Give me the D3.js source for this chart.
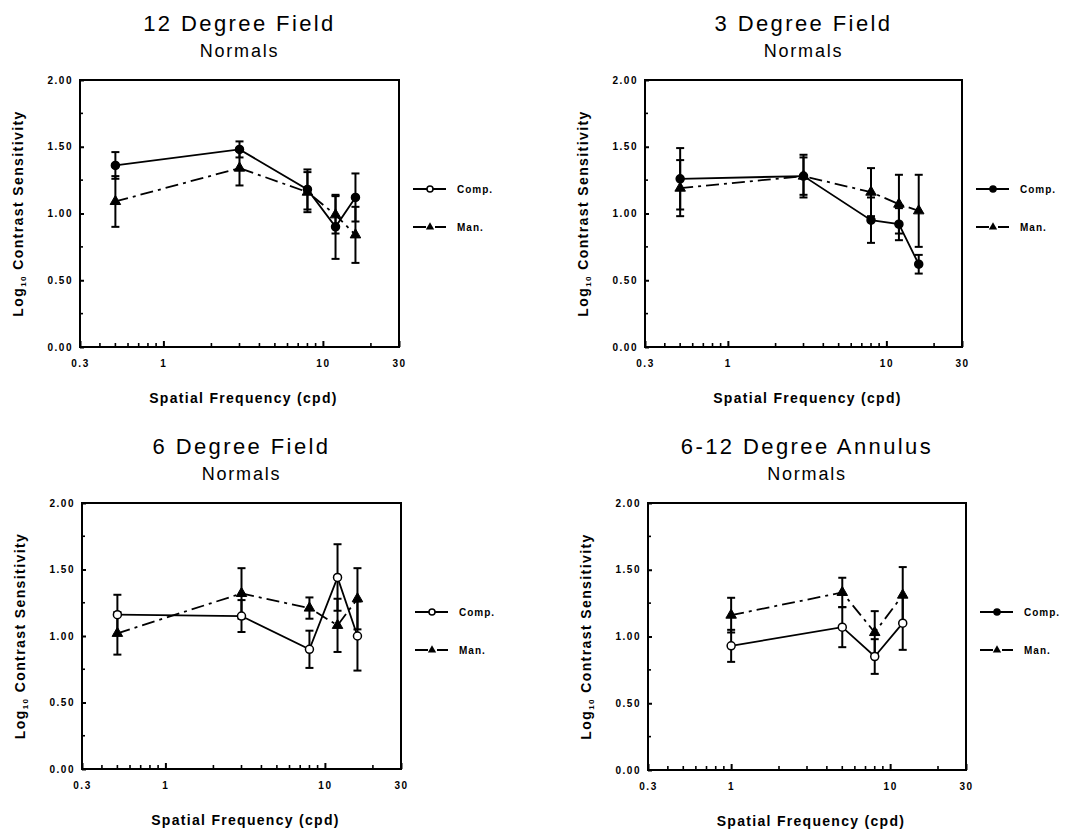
<!DOCTYPE html>
<html>
<head>
<meta charset="utf-8">
<script src="https://cdn.jsdelivr.net/npm/d3@7"></script>
<style>
  body { margin: 0; background: #fff; }
  svg { display: block; }
</style>
</head>
<body>
<svg id="chart" width="1081" height="838"></svg>
<script>
// ---- Titles, series names and axis labels ----
const panelTitles = ["12 Degree Field", "3 Degree Field", "6 Degree Field", "6-12 Degree Annulus"];
const panelSubtitle = "Normals";
const seriesNames = ["Comp.", "Man."];
const xTitle = "Spatial Frequency (cpd)";
const xTickValues = [0.3, 1, 10, 30];
const xTickLabels = ["0.3", "1", "10", "30"];
const xMinorValues = [0.4, 0.5, 0.6, 0.7, 0.8, 0.9, 2, 3, 4, 5, 6, 7, 8, 9, 20];
const yTickValues = [0, 0.5, 1, 1.5, 2];
const yTickLabels = ["0.00", "0.50", "1.00", "1.50", "2.00"];
const yMinorValues = [0.25, 0.75, 1.25, 1.75];

// ---- 12 degree field ----
const freq12 = [0.5, 3, 8, 12, 16];
const comp12 = [1.36, 1.48, 1.18, 0.90, 1.12];
const compErr12 = [0.10, 0.06, 0.15, 0.24, 0.18];
const man12 = [1.09, 1.34, 1.16, 0.99, 0.84];
const manErr12 = [0.19, 0.13, 0.15, 0.14, 0.21];

// ---- 3 degree field ----
const freq3 = [0.5, 3, 8, 12, 16];
const comp3 = [1.26, 1.28, 0.95, 0.92, 0.62];
const compErr3 = [0.23, 0.16, 0.17, 0.12, 0.07];
const man3 = [1.19, 1.28, 1.16, 1.07, 1.02];
const manErr3 = [0.21, 0.14, 0.18, 0.22, 0.27];

// ---- 6 degree field ----
const freq6 = [0.5, 3, 8, 12, 16];
const comp6 = [1.16, 1.15, 0.90, 1.44, 1.00];
const compErr6 = [0.15, 0.12, 0.14, 0.25, 0.26];
const man6 = [1.02, 1.32, 1.21, 1.08, 1.28];
const manErr6 = [0.16, 0.19, 0.08, 0.20, 0.23];

// ---- 6-12 degree annulus ----
const freqAnn = [1, 5, 8, 12];
const compAnn = [0.93, 1.07, 0.85, 1.10];
const compErrAnn = [0.12, 0.15, 0.13, 0.20];
const manAnn = [1.16, 1.33, 1.03, 1.31];
const manErrAnn = [0.13, 0.11, 0.16, 0.21];

// ---- panel layout (plot frame in pixels) ----
const panels = [
  { title: panelTitles[0], freq: freq12, comp: comp12, compErr: compErr12, man: man12, manErr: manErr12,
    x0: 80, x1: 399, y0: 80, y1: 347, compOpen: false, legendCompOpen: true },
  { title: panelTitles[1], freq: freq3, comp: comp3, compErr: compErr3, man: man3, manErr: manErr3,
    x0: 645, x1: 962, y0: 80, y1: 347, compOpen: false, legendCompOpen: false },
  { title: panelTitles[2], freq: freq6, comp: comp6, compErr: compErr6, man: man6, manErr: manErr6,
    x0: 82, x1: 401, y0: 503, y1: 769, compOpen: true, legendCompOpen: true },
  { title: panelTitles[3], freq: freqAnn, comp: compAnn, compErr: compErrAnn, man: manAnn, manErr: manErrAnn,
    x0: 648, x1: 966, y0: 503, y1: 770, compOpen: true, legendCompOpen: false }
];

const FONT = "'Liberation Sans', Arial, Helvetica, sans-serif";
const svg = d3.select("#chart");
const triangle = d3.symbol().type(d3.symbolTriangle).size(48);
const MAN_DASH = "13,5,3,5";

panels.forEach(p => {
  const x = d3.scaleLog().domain([0.3, 30]).range([p.x0, p.x1]);
  const y = d3.scaleLinear().domain([0, 2]).range([p.y1, p.y0]);
  const g = svg.append("g");
  const cx = (p.x0 + p.x1) / 2;

  // titles
  g.append("text").attr("x", cx).attr("y", p.y0 - 49)
    .attr("text-anchor", "middle").attr("font-family", FONT)
    .attr("font-size", 22).attr("letter-spacing", 2.4).text(p.title);
  g.append("text").attr("x", cx).attr("y", p.y0 - 23)
    .attr("text-anchor", "middle").attr("font-family", FONT)
    .attr("font-size", 18).attr("letter-spacing", 1.8).text(panelSubtitle);

  // frame
  g.append("rect").attr("x", p.x0).attr("y", p.y0)
    .attr("width", p.x1 - p.x0).attr("height", p.y1 - p.y0)
    .attr("fill", "none").attr("stroke", "#000").attr("stroke-width", 2);

  // x axis (ticks drawn inward)
  const xa = g.append("g").attr("transform", `translate(0,${p.y1})`)
    .call(d3.axisBottom(x).tickValues(xTickValues).tickSize(-6).tickPadding(13)
      .tickFormat((d, i) => xTickLabels[i]));
  xa.select(".domain").remove();
  xa.selectAll("line").attr("stroke-width", 2);
  xa.selectAll("text").attr("font-family", FONT).attr("font-size", 10)
    .attr("font-weight", "bold").attr("letter-spacing", 1.5);
  g.selectAll(null).data(xMinorValues).join("line")
    .attr("x1", d => x(d)).attr("x2", d => x(d))
    .attr("y1", p.y1).attr("y2", p.y1 - 4)
    .attr("stroke", "#000").attr("stroke-width", 1.6);

  // y axis (ticks drawn inward)
  const ya = g.append("g").attr("transform", `translate(${p.x0},0)`)
    .call(d3.axisLeft(y).tickValues(yTickValues).tickSize(-4).tickPadding(7)
      .tickFormat((d, i) => yTickLabels[i]));
  ya.select(".domain").remove();
  ya.selectAll("line").attr("stroke-width", 2);
  ya.selectAll("text").attr("font-family", FONT).attr("font-size", 10)
    .attr("font-weight", "bold").attr("letter-spacing", 1.5);
  g.selectAll(null).data(yMinorValues).join("line")
    .attr("x1", p.x0).attr("x2", p.x0 + 3)
    .attr("y1", d => y(d)).attr("y2", d => y(d))
    .attr("stroke", "#000").attr("stroke-width", 1.6);

  // axis titles
  g.append("text").attr("x", cx + 4).attr("y", p.y1 + 56)
    .attr("text-anchor", "middle").attr("font-family", FONT)
    .attr("font-size", 14).attr("font-weight", "bold").attr("letter-spacing", 1.3)
    .text(xTitle);
  const yt = g.append("text")
    .attr("transform", `translate(${p.x0 - 57},${(p.y0 + p.y1) / 2}) rotate(-90)`)
    .attr("text-anchor", "middle").attr("font-family", FONT)
    .attr("font-size", 14).attr("font-weight", "bold").attr("letter-spacing", 1.4);
  yt.append("tspan").text("Log");
  yt.append("tspan").attr("font-size", 8).attr("dy", 3).text("10");
  yt.append("tspan").attr("dy", -3).text(" Contrast Sensitivity");

  const series = [
    { vals: p.comp, errs: p.compErr, dash: null, kind: "circle", open: p.compOpen },
    { vals: p.man, errs: p.manErr, dash: MAN_DASH, kind: "triangle", open: false }
  ];

  const line = d3.line().x(d => x(d[0])).y(d => y(d[1]));

  series.forEach(s => {
    const pts = p.freq.map((f, i) => [f, s.vals[i], s.errs[i]]);
    g.append("path").datum(pts).attr("d", line)
      .attr("fill", "none").attr("stroke", "#000").attr("stroke-width", 1.8)
      .attr("stroke-dasharray", s.dash);
    // error bars
    const eb = g.selectAll(null).data(pts).join("g");
    eb.append("line")
      .attr("x1", d => x(d[0])).attr("x2", d => x(d[0]))
      .attr("y1", d => y(d[1] - d[2])).attr("y2", d => y(d[1] + d[2]))
      .attr("stroke", "#000").attr("stroke-width", 2);
    [-1, 1].forEach(sign => {
      eb.append("line")
        .attr("x1", d => x(d[0]) - 4).attr("x2", d => x(d[0]) + 4)
        .attr("y1", d => y(d[1] + sign * d[2])).attr("y2", d => y(d[1] + sign * d[2]))
        .attr("stroke", "#000").attr("stroke-width", 2);
    });
    s.pts = pts;
  });

  // markers on top
  series.forEach(s => {
    if (s.kind === "circle") {
      g.selectAll(null).data(s.pts).join("circle")
        .attr("cx", d => x(d[0])).attr("cy", d => y(d[1])).attr("r", 4)
        .attr("fill", s.open ? "#fff" : "#000").attr("stroke", "#000").attr("stroke-width", 1.5);
    } else {
      g.selectAll(null).data(s.pts).join("path")
        .attr("d", triangle)
        .attr("transform", d => `translate(${x(d[0])},${y(d[1])})`)
        .attr("fill", "#000").attr("stroke", "#000").attr("stroke-width", 1);
    }
  });

  // legend
  const lx = p.x1 + 14, ly = [p.y0 + 109, p.y0 + 147];
  seriesNames.forEach((name, i) => {
    g.append("line").attr("x1", lx).attr("x2", lx + 33)
      .attr("y1", ly[i]).attr("y2", ly[i])
      .attr("stroke", "#000").attr("stroke-width", 2)
      .attr("stroke-dasharray", i === 1 ? "13,3,3,3" : null);
    if (i === 0) {
      g.append("circle").attr("cx", lx + 17).attr("cy", ly[i]).attr("r", 3)
        .attr("fill", p.legendCompOpen ? "#fff" : "#000").attr("stroke", "#000").attr("stroke-width", 1.5);
    } else {
      g.append("path").attr("d", d3.symbol().type(d3.symbolTriangle).size(30))
        .attr("transform", `translate(${lx + 17},${ly[i]})`).attr("fill", "#000");
    }
    g.append("text").attr("x", lx + 44).attr("y", ly[i]).attr("dy", "0.35em")
      .attr("font-family", FONT).attr("font-size", 10).attr("font-weight", "bold")
      .attr("letter-spacing", 1).text(name);
  });
});
</script>
</body>
</html>
